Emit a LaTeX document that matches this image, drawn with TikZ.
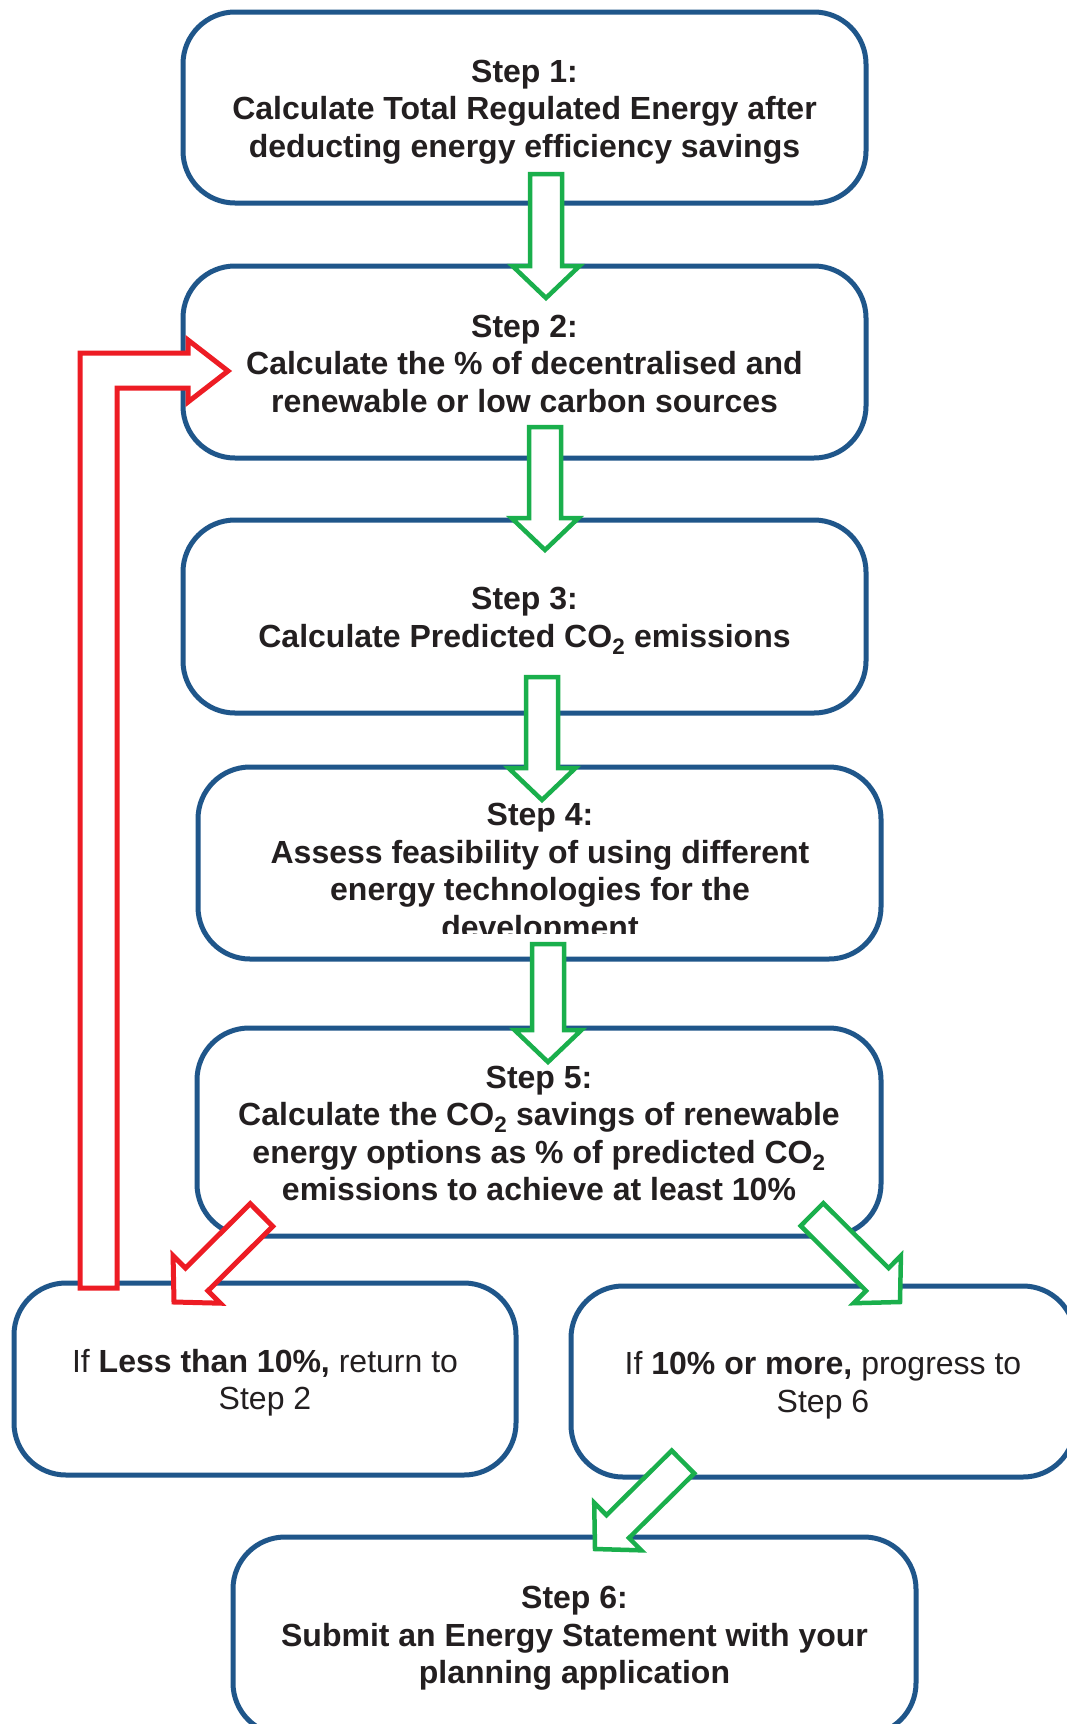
\documentclass[tikz,border=0pt]{standalone}
\usepackage{fontspec}
\setmainfont{Liberation Sans}
\usetikzlibrary{calc}
\definecolor{boxblue}{RGB}{31,86,138}
\definecolor{arrgreen}{RGB}{26,175,76}
\definecolor{arrred}{RGB}{237,28,36}
\definecolor{txt}{RGB}{35,31,32}
\tikzset{
  box/.style={draw=boxblue, line width=5pt, rounded corners=52pt, fill=white,
    inner sep=0pt, outer sep=0pt},
  boxtext/.style={inner sep=0pt, text=txt, align=center,
    font=\fontsize{32}{37.5}\selectfont\bfseries},
  plaintext/.style={boxtext, font=\fontsize{32}{37.5}\selectfont},
  garrow/.style={draw=arrgreen, line width=4.5pt, fill=white},
  rarrow/.style={draw=arrred, line width=5pt, fill=white},
}
\newcommand\blockarrow[3]{%
  \coordinate (bahead) at ($(#3)!32pt!(#2)$);
  \draw[#1] ($(#2)!16pt!90:(#3)$) -- ($(bahead)!16pt!90:(#3)$)
    -- ($(bahead)!33.5pt!90:(#3)$) -- (#3)
    -- ($(bahead)!33.5pt!-90:(#3)$) -- ($(bahead)!16pt!-90:(#3)$)
    -- ($(#2)!16pt!-90:(#3)$) -- cycle;}
\begin{document}
\begin{tikzpicture}[x=1pt,y=-1pt]
\clip (0,0) rectangle (1067,1724);
\fill[white] (0,0) rectangle (1067,1724);

\node[box, minimum width=683pt, minimum height=191pt] (b1) at (524.5,107.5) {};
\node[boxtext] (t1) at ($(b1.center)+(0,4.5)$)
  {Step 1:\\Calculate Total Regulated Energy after\\deducting energy efficiency savings};
\node[box, minimum width=683pt, minimum height=192pt] (b2) at (524.5,362) {};
\node[boxtext] (t2) at ($(b2.center)+(0,1.5)$)
  {Step 2:\\Calculate the \% of decentralised and\\renewable or low carbon sources};
\node[box, minimum width=683pt, minimum height=193pt] (b3) at (524.5,616.5) {};
\node[boxtext] (t3) at ($(b3.center)+(0,4.5)$)
  {Step 3:\\Calculate Predicted CO\textsubscript{2} emissions};
\node[box, minimum width=683pt, minimum height=192pt] (b4) at (539.5,863) {};
\begin{scope}
  \clip (198,775) rectangle (881,933);
  \node[boxtext] (t4) at (540,874)
    {Step 4:\\Assess feasibility of using different\\energy technologies for the\\development};
\end{scope}
\node[box, minimum width=684pt, minimum height=208pt] (b5) at (539,1132) {};
\node[boxtext] (t5) at ($(b5.center)+(0,1.5)$)
  {Step 5:\\Calculate the CO\textsubscript{2} savings of renewable\\energy options as \% of predicted CO\textsubscript{2}\\emissions to achieve at least 10\%};
\node[box, minimum width=502pt, minimum height=192pt] (bl) at (265,1379) {};
\node[plaintext] (tl) at ($(bl.center)+(0,3.5)$)
  {If \textbf{Less than 10\%,} return to\\Step 2};
\node[box, minimum width=504pt, minimum height=191pt] (br) at (823,1381.5) {};
\node[plaintext] (tr) at ($(br.center)+(0,3.5)$)
  {If \textbf{10\% or more,} progress to\\Step 6};
\node[box, minimum width=683pt, minimum height=198pt] (b6) at (574.5,1636) {};
\node[boxtext] (t6) at ($(b6.center)+(0,2.5)$)
  {Step 6:\\Submit an Energy Statement with your\\planning application};

% connector end points
\coordinate (a1t) at ($(b1.south)+(21.5,-29)$);
\coordinate (a1p) at ($(b2.north)+(21.5,32)$);
\coordinate (a2t) at ($(b2.south)+(20.5,-31)$);
\coordinate (a2p) at ($(b3.north)+(20.5,30)$);
\coordinate (a3t) at ($(b3.south)+(17.5,-36)$);
\coordinate (a3p) at ($(b4.north)+(2.5,33)$);
\coordinate (a4t) at ($(b4.south)+(8.5,-15)$);
\coordinate (a4p) at ($(b5.north)+(9,34)$);
\coordinate (rdt) at ($(b5.south)+(-277.5,-21)$);
\coordinate (rdp) at ($(bl.north)+(-91,19)$);
\coordinate (gdt) at ($(b5.south)+(273,-21.5)$);
\coordinate (gdp) at ($(br.north)+(77,16)$);
\coordinate (gbt) at ($(br.south)+(-140,-15)$);
\coordinate (gbp) at ($(b6.north)+(20.5,12)$);
\coordinate (rlb) at ($(bl.north)+(-166.5,5)$);
\coordinate (rlt) at ($(b2.west)+(45,9)$);

\blockarrow{garrow}{a1t}{a1p}
\blockarrow{garrow}{a2t}{a2p}
\blockarrow{garrow}{a3t}{a3p}
\blockarrow{garrow}{a4t}{a4p}
\blockarrow{rarrow}{rdt}{rdp}
\blockarrow{garrow}{gdt}{gdp}
\blockarrow{garrow}{gbt}{gbp}

\draw[rarrow] ($(rlb)+(-18.5,0)$) |- ($(rlt)+(-40,-18)$) -- ($(rlt)+(-40,-31)$)
  -- (rlt) -- ($(rlt)+(-40,31)$) -- ($(rlt)+(-40,17)$) -| ($(rlb)+(18.5,0)$) -- cycle;
\end{tikzpicture}
\end{document}
